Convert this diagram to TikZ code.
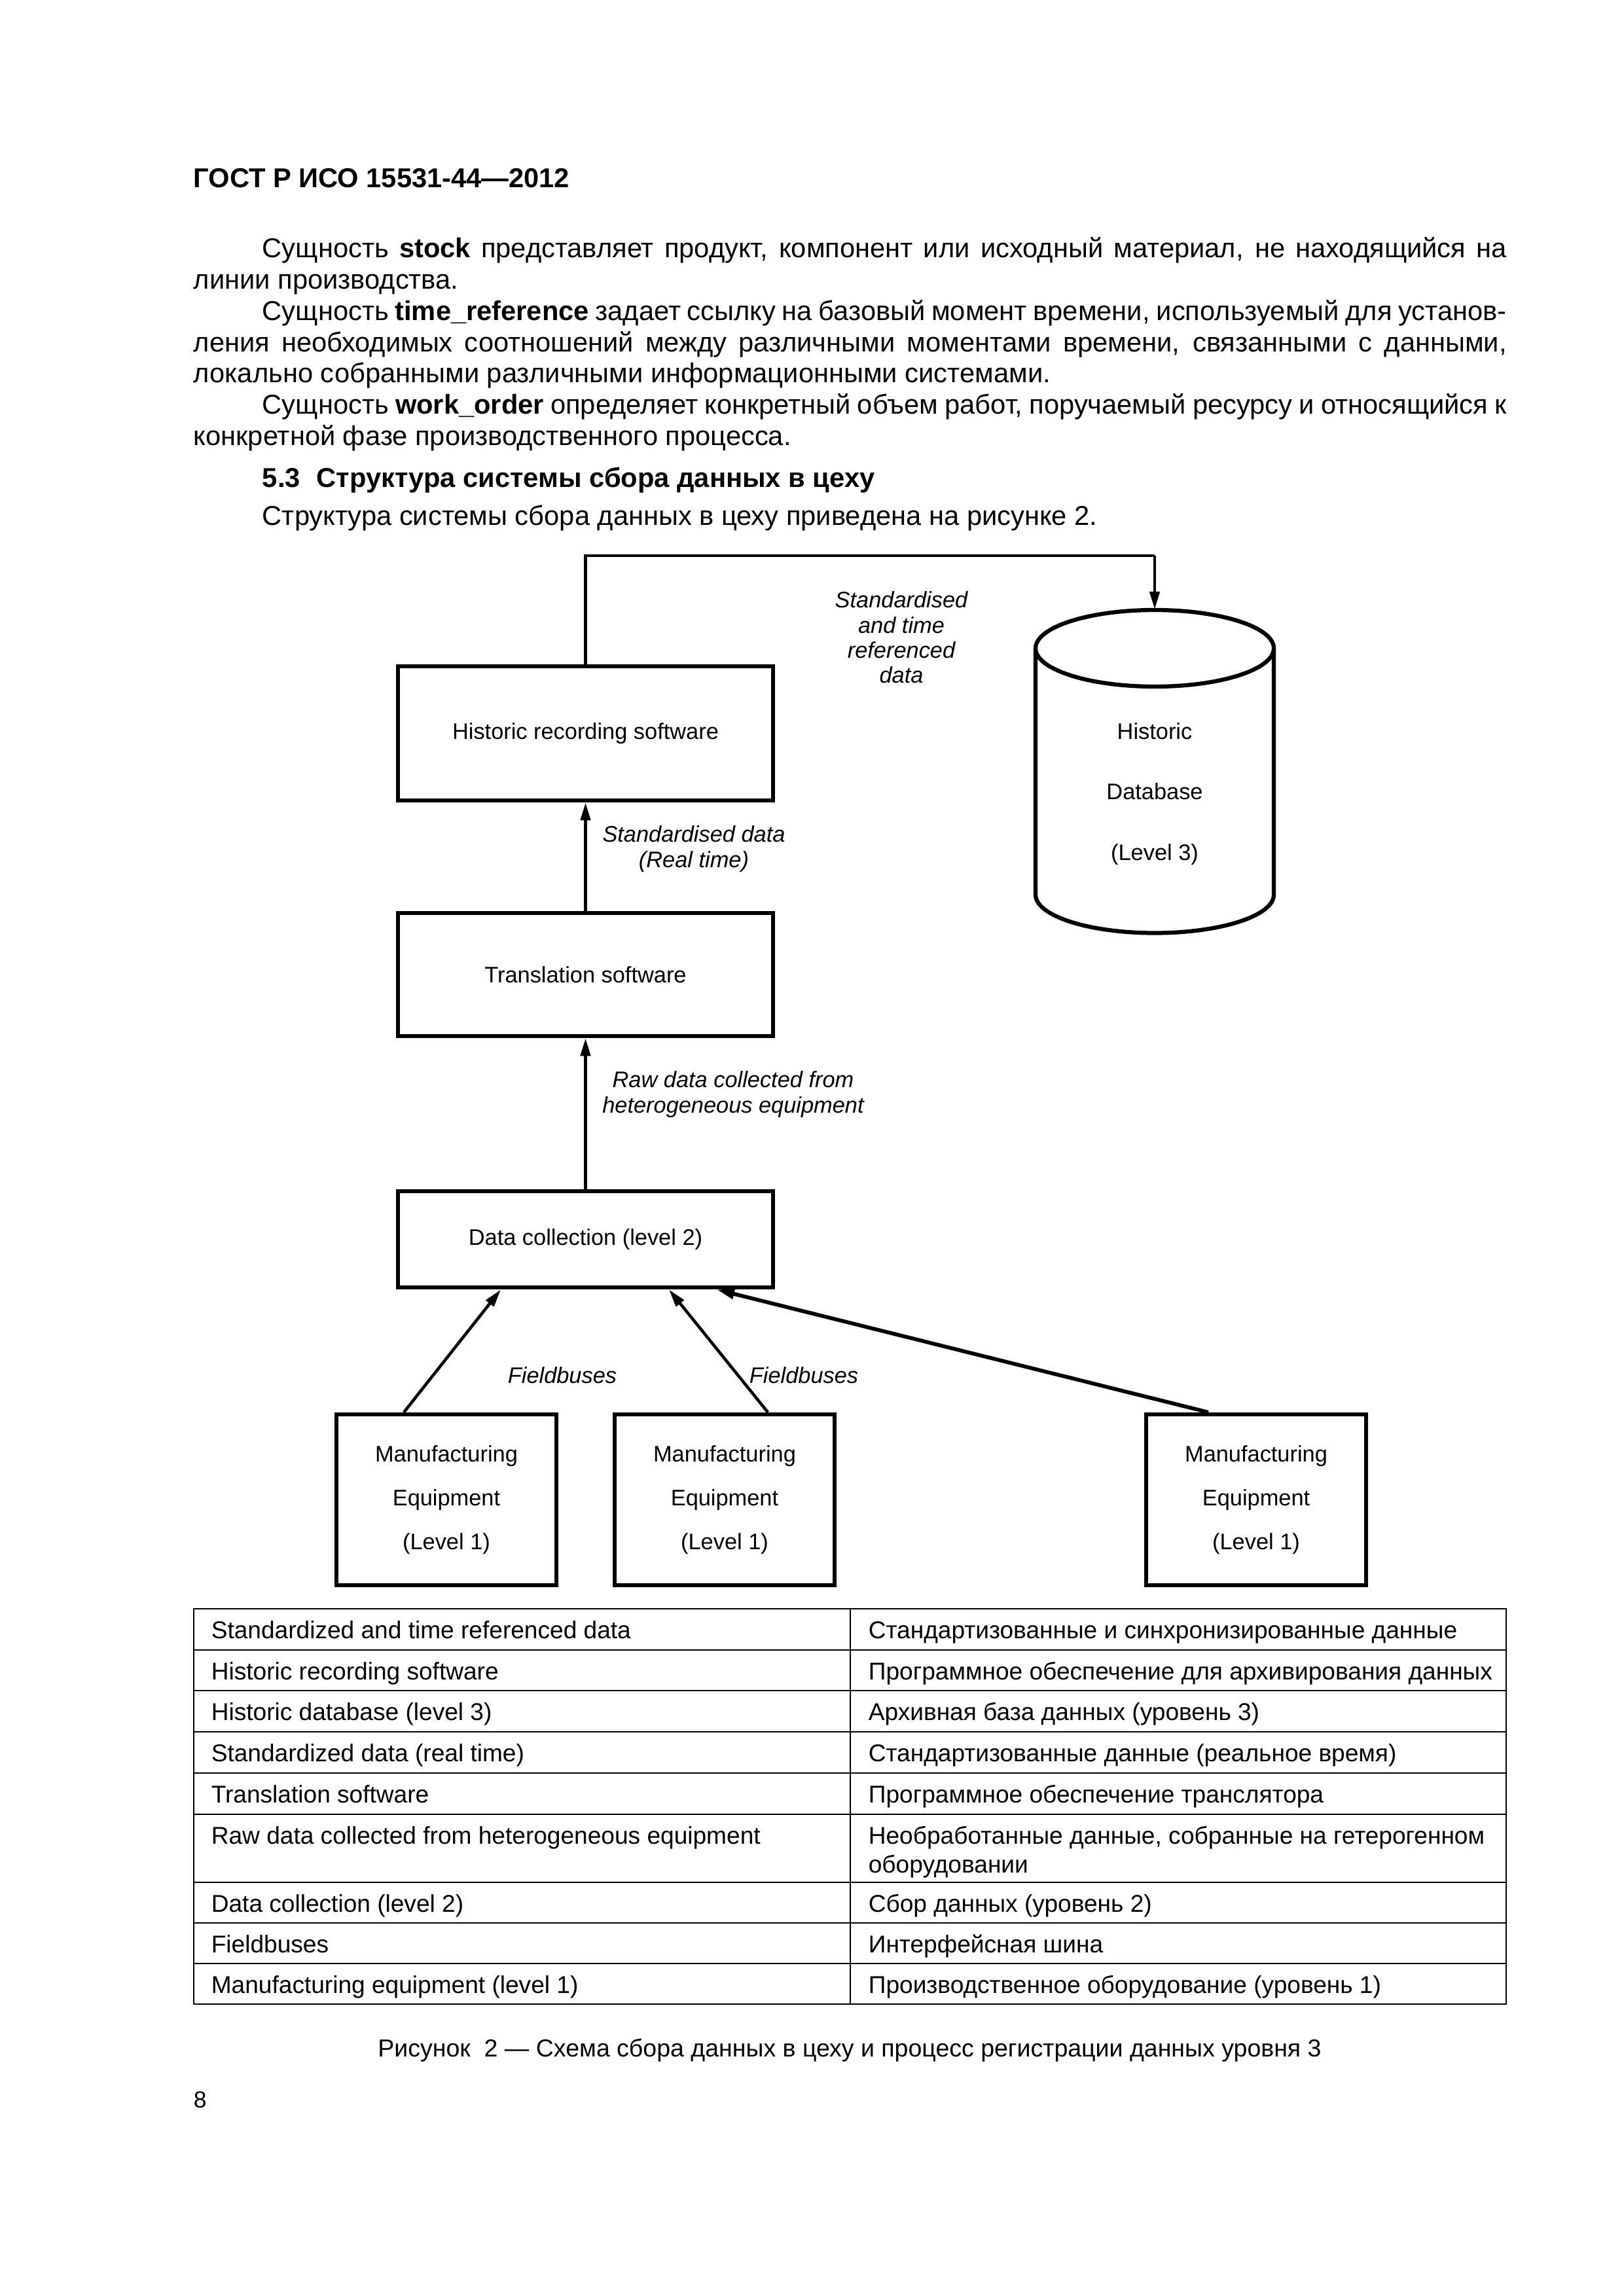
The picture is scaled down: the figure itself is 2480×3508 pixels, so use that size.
\documentclass[tikz,border=0pt]{standalone}
\usepackage{fontspec}
\setmainfont{Liberation Sans}
\usetikzlibrary{arrows.meta,calc}
\newcommand\myfs[2]{\fontsize{#1}{#2}\selectfont}
\newcommand\justline[1]{\hbox to 481.4pt{#1}}
\newcommand\indline[1]{\hbox to 481.4pt{\hskip 25.2pt #1}}
\begin{document}
\begin{tikzpicture}[x=0.24pt,y=-0.24pt,
  bodytxt/.style={anchor=base west, inner sep=0pt, font=\myfs{10pt}{11.5pt}},
  boxsty/.style={draw, line width=1.6pt, inner sep=0pt, align=center, font=\myfs{8.25pt}{9.9pt}},
  eqsty/.style={boxsty, minimum width=80.6pt, minimum height=62.6pt, font=\myfs{8.25pt}{16pt}},
  lbl/.style={inner sep=0pt, align=center, font=\myfs{8.25pt}{9.2pt}\itshape},
  arr/.style={line width=1.1pt, -{Triangle[length=6.5pt,width=3.6pt]}},
  cell/.style={anchor=base west, inner sep=0pt, font=\myfs{8.9pt}{10.7pt}},
  tline/.style={line width=0.5pt}]
\fill[white] (0,0) rectangle (2480,3508);
\useasboundingbox (0,0) rectangle (2480,3508);

% header
\node[anchor=base west, inner sep=0pt, font=\myfs{10pt}{12pt}\bfseries] (hdr) at (295,287) {ГОСТ Р ИСО 15531-44—2012};

% body text
\node[bodytxt] (p1) at (295,394) {\indline{Сущность \textbf{stock} представляет продукт, компонент или исходный материал, не находящийся на}};
\node[bodytxt] (p2) at (295,441.7) {линии производства.};
\node[bodytxt] (p3) at (295,489.4) {\indline{Сущность \textbf{time\_reference} задает ссылку на базовый момент времени, используемый для установ-}};
\node[bodytxt] (p4) at (295,537.1) {\justline{ления необходимых соотношений между различными моментами времени, связанными с данными,}};
\node[bodytxt] (p5) at (295,584.8) {локально собранными различными информационными системами.};
\node[bodytxt] (p6) at (295,632.5) {\indline{Сущность \textbf{work\_order} определяет конкретный объем работ, поручаемый ресурсу и относящийся к}};
\node[bodytxt] (p7) at (295,680.2) {конкретной фазе производственного процесса.};
\node[bodytxt, font=\myfs{10pt}{11.5pt}\bfseries] (h53) at (400,745) {5.3\hskip 0.6em Структура системы сбора данных в цеху};
\node[bodytxt] (intro) at (400,803) {Структура системы сбора данных в цеху приведена на рисунке 2.};

% diagram boxes
\node[boxsty, minimum width=137.5pt, minimum height=49.2pt] (hist) at (894.5,1120.5) {Historic recording software};
\node[boxsty, minimum width=137.5pt, minimum height=45.1pt] (trans) at (894.5,1489) {Translation software};
\node[boxsty, minimum width=137.5pt, minimum height=35.3pt] (datac) at (894.5,1893.5) {Data collection (level 2)};
\node[eqsty] (eq1) at (682,2291.5) {Manufacturing\\Equipment\\(Level 1)};
\node[eqsty] (eq2) at (1107,2291.5) {Manufacturing\\Equipment\\(Level 1)};
\node[eqsty] (eq3) at (1919,2291.5) {Manufacturing\\Equipment\\(Level 1)};

% cylinder (historic database)
\draw[line width=1.5pt] (1764,990.5) ellipse [x radius=182, y radius=58.5];
\draw[line width=1.5pt] (1582,990.5) -- (1582,1367)
  .. controls (1582,1399.3) and (1663.5,1425.5) .. (1764,1425.5)
  .. controls (1864.5,1425.5) and (1946,1399.3) .. (1946,1367) -- (1946,990.5);
\node[inner sep=0pt, align=center, font=\myfs{8.25pt}{22.2pt}] (db) at (1764,1213) {Historic\\Database\\(Level 3)};
\coordinate (dbtop) at (1764,931);
\coordinate (bend) at (1764,849);

% connectors
\draw[line width=1.1pt] (hist.north) |- (bend);
\draw[arr] (bend) -- (dbtop);
\draw[arr] (trans.north) -- (hist.south);
\draw[arr] (datac.north) -- (trans.south);
\draw[arr] ($(eq1.north)+(-65,0)$) -- ($(datac.south)+(-129.5,0)$);
\draw[arr] ($(eq2.north)+(66,0)$) -- ($(datac.south)+(127.5,0)$);
\draw[arr, line width=1.4pt] ($(eq3.north)+(-73,0)$) -- ($(datac.south)+(200.5,0)$);

% connector labels
\node[lbl] (l1) at (1377,974) {Standardised\\and time\\referenced\\data};
\node[lbl] (l2) at (1060,1297) {Standardised data\\(Real time)};
\node[lbl] (l3) at (1120,1672) {Raw data collected from\\heterogeneous equipment};
\node[lbl] (fb1) at (859,2101) {Fieldbuses};
\node[lbl] (fb2) at (1228,2101) {Fieldbuses};

% table
\draw[tline] (296,2458) rectangle (2301,3062);
\foreach \yy in {2521,2583,2646,2709,2772,2876,2938,3000}
  \draw[tline] (296,\yy) -- (2301,\yy);
\draw[tline] (1299,2458) -- (1299,3062);

\node[cell] (a1) at (322,2503) {Standardized and time referenced data};
\node[cell] (b1) at (1326,2503) {Стандартизованные и синхронизированные данные};
\node[cell] (a2) at (322,2566) {Historic recording software};
\node[cell] (b2) at (1326,2566) {Программное обеспечение для архивирования данных};
\node[cell] (a3) at (322,2628) {Historic database (level 3)};
\node[cell] (b3) at (1326,2628) {Архивная база данных (уровень 3)};
\node[cell] (a4) at (322,2691) {Standardized data (real time)};
\node[cell] (b4) at (1326,2691) {Стандартизованные данные (реальное время)};
\node[cell] (a5) at (322,2754) {Translation software};
\node[cell] (b5) at (1326,2754) {Программное обеспечение транслятора};
\node[cell] (a6) at (322,2817) {Raw data collected from heterogeneous equipment};
\node[cell] (b6) at (1326,2817) {\vtop{\hbox{Необработанные данные, собранные на гетерогенном}\hbox{оборудовании}}};
\node[cell] (a7) at (322,2921) {Data collection (level 2)};
\node[cell] (b7) at (1326,2921) {Сбор данных (уровень 2)};
\node[cell] (a8) at (322,2983) {Fieldbuses};
\node[cell] (b8) at (1326,2983) {Интерфейсная шина};
\node[cell] (a9) at (322,3045) {Manufacturing equipment (level 1)};
\node[cell] (b9) at (1326,3045) {Производственное оборудование (уровень 1)};

% caption and page number
\node[anchor=base, inner sep=0pt, font=\myfs{9pt}{11pt}] (cap) at (1298,3142) {Рисунок\ \ 2 — Схема сбора данных в цеху и процесс регистрации данных уровня 3};
\node[anchor=base west, inner sep=0pt, font=\myfs{8.5pt}{10pt}] (pg) at (295,3220) {8};
\end{tikzpicture}
\end{document}
